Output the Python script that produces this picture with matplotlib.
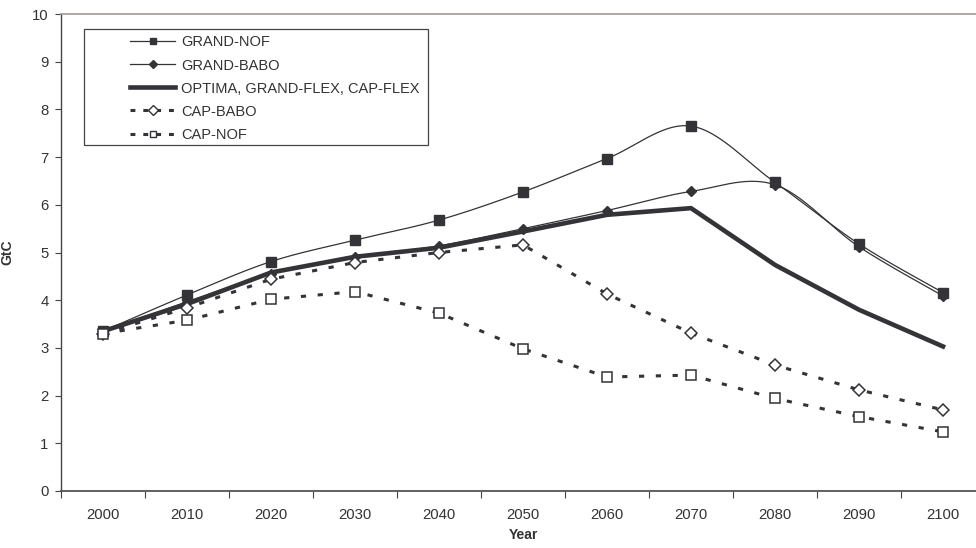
import numpy as np
import matplotlib
matplotlib.use("Agg")
import matplotlib.pyplot as plt
from matplotlib.ticker import FixedLocator
from matplotlib.patches import Rectangle

plt.rcParams['font.family'] = ['Liberation Sans', 'DejaVu Sans']

years = [2000, 2010, 2020, 2030, 2040, 2050, 2060, 2070, 2080, 2090, 2100]
grand_nof = [3.35, 4.11, 4.81, 5.26, 5.68, 6.27, 6.97, 7.65, 6.47, 5.18, 4.16]
grand_babo = [3.35, 3.97, 4.55, 4.90, 5.14, 5.50, 5.88, 6.28, 6.42, 5.12, 4.09]
optima = [3.35, 3.92, 4.58, 4.91, 5.10, 5.44, 5.79, 5.93, 4.74, 3.80, 3.03]
cap_babo = [3.30, 3.84, 4.44, 4.79, 5.00, 5.16, 4.13, 3.31, 2.64, 2.12, 1.70]
cap_nof = [3.30, 3.58, 4.02, 4.18, 3.73, 2.98, 2.39, 2.43, 1.94, 1.56, 1.24]

ink = '#333338'


def smooth(x, y, n=30):
    # Bezier smoothing through every point (control = neighbour slope / 6)
    x = np.asarray(x, float)
    y = np.asarray(y, float)
    px = np.concatenate([[x[0]], x, [x[-1]]])
    py = np.concatenate([[y[0]], y, [y[-1]]])
    xs, ys = [], []
    t = np.linspace(0, 1, n)
    for i in range(len(x) - 1):
        p0 = np.array([px[i + 1], py[i + 1]])
        p3 = np.array([px[i + 2], py[i + 2]])
        c1 = p0 + (np.array([px[i + 2], py[i + 2]]) - np.array([px[i], py[i]])) / 6
        c2 = p3 - (np.array([px[i + 3], py[i + 3]]) - np.array([px[i + 1], py[i + 1]])) / 6
        b = ((1 - t) ** 3)[:, None] * p0 + (3 * (1 - t) ** 2 * t)[:, None] * c1 \
            + (3 * (1 - t) * t ** 2)[:, None] * c2 + (t ** 3)[:, None] * p3
        xs.extend(b[:, 0])
        ys.extend(b[:, 1])
    return xs, ys


fig = plt.figure(figsize=(9.76, 5.48), dpi=100)
ax = fig.add_axes([61 / 976, 57 / 548, 924 / 976, 477 / 548])

pos = np.arange(len(years))

# smoothed GRAND curves
sx, sy = smooth(pos, grand_nof)
ax.plot(sx, sy, color=ink, lw=0.9)
ax.plot(pos, grand_nof, ls='none', marker='s', ms=6.5, color=ink)
sx, sy = smooth(pos, grand_babo)
ax.plot(sx, sy, color=ink, lw=0.9)
ax.plot(pos, grand_babo, ls='none', marker='D', ms=5, color=ink)

ax.plot(pos, optima, color=ink, lw=3.3)

ax.plot(pos, cap_babo, color=ink, lw=2.2, dashes=(1.7, 3.8),
        marker='D', ms=6, mfc='white', mec=ink, mew=1.1)
ax.plot(pos, cap_nof, color=ink, lw=2.2, dashes=(1.7, 3.8),
        marker='s', ms=6.5, mfc='white', mec=ink, mew=1.1)

# legend entries
h1, = ax.plot([], [], color=ink, lw=0.9, marker='s', ms=5)
h2, = ax.plot([], [], color=ink, lw=0.9, marker='D', ms=4)
h3, = ax.plot([], [], color=ink, lw=3.3)
h4, = ax.plot([], [], color=ink, lw=2.2, dashes=(1.6, 2.6),
              marker='D', ms=5, mfc='white', mec=ink, mew=1.0)
h5, = ax.plot([], [], color=ink, lw=2.2, dashes=(1.6, 2.6),
              marker='s', ms=5, mfc='white', mec=ink, mew=1.0)
leg = ax.legend([h1, h2, h3, h4, h5],
                ['GRAND-NOF', 'GRAND-BABO', 'OPTIMA, GRAND-FLEX, CAP-FLEX',
                 'CAP-BABO', 'CAP-NOF'],
                loc='upper left', bbox_to_anchor=(0.0747, 0.955),
                fontsize=10.5, handlelength=3.1, handletextpad=0.4,
                labelspacing=0.62, borderpad=0, frameon=False,
                borderaxespad=0)
for t in leg.get_texts():
    t.set_color('#333333')

# legend border box
ax.add_patch(Rectangle((0.0249, 0.7254), 0.372, 0.2432, transform=ax.transAxes,
                       fill=True, facecolor='white', edgecolor='#444444',
                       lw=0.9, zorder=4))
leg.set_zorder(5)

ax.set_xlim(-0.5, len(years) - 0.5)
ax.set_ylim(0, 10)
ax.set_yticks(range(0, 11))
ax.xaxis.set_major_locator(FixedLocator(np.arange(-0.5, len(years), 1)))
ax.xaxis.set_minor_locator(FixedLocator(pos))
ax.set_xticklabels([])
ax.set_xticklabels([str(y) for y in years], minor=True)
ax.tick_params(axis='x', which='major', length=5, width=0.8, color='#444444')
ax.tick_params(axis='x', which='minor', length=0, pad=12, labelsize=10.7,
               labelcolor='#333333')
ax.tick_params(axis='y', length=4, width=0.8, color='#444444', labelsize=10.7,
               labelcolor='#333333', pad=5)

ax.spines['right'].set_visible(False)
ax.spines['top'].set_color('#a39a96')
ax.spines['top'].set_linewidth(1.2)
ax.spines['left'].set_color('#444444')
ax.spines['bottom'].set_color('#555555')
ax.spines['left'].set_linewidth(1)
ax.spines['bottom'].set_linewidth(1.3)

ax.set_xlabel('Year', fontsize=10, fontweight='bold', color='#333333')
ax.set_ylabel('GtC', fontsize=10, fontweight='bold', color='#333333')
ax.xaxis.set_label_coords(0.5, -0.078)
ax.yaxis.set_label_coords(-0.051, 0.5)

fig.savefig('out.png', dpi=100)
